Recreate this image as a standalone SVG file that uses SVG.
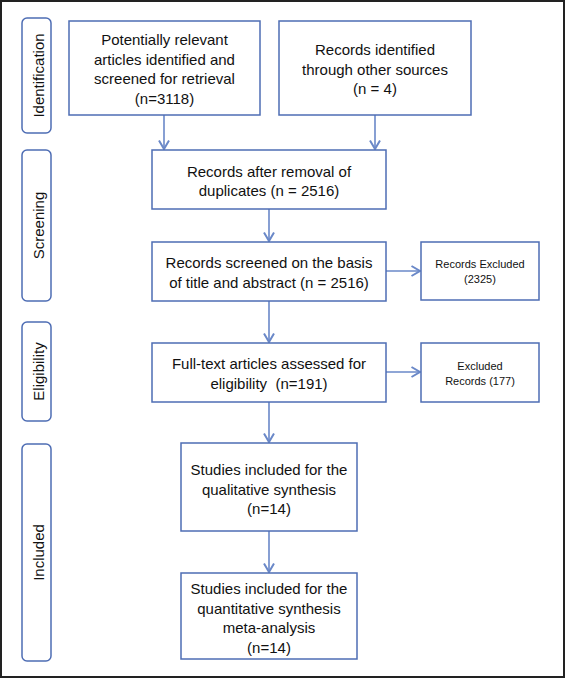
<svg xmlns="http://www.w3.org/2000/svg" width="566" height="679" viewBox="0 0 566 679">
<style>
.box{fill:#fff;stroke:#4e6db4;stroke-width:1.5}
.lab{fill:#fff;stroke:#4e6db4;stroke-width:1.5}
.t{font-family:"Liberation Sans",Arial,sans-serif;font-size:15px;fill:#111;text-anchor:middle}
.s{font-family:"Liberation Sans",Arial,sans-serif;font-size:11px;fill:#111;text-anchor:middle}
.c{fill:none;stroke:#6a88c8;stroke-width:1.6}
</style>
<defs>
<marker id="ah" markerUnits="userSpaceOnUse" markerWidth="14" markerHeight="14" viewBox="-10 -7 12 14" refX="0" refY="0" orient="auto">
<path d="M-8.5,-5 L0,0 L-8.5,5" fill="none" stroke="#6a88c8" stroke-width="2"/>
</marker>
</defs>
<rect x="1" y="1" width="563" height="676" fill="#fff" stroke="#222" stroke-width="2"/>
<g id="phase-identification">
<rect class="lab" x="22" y="18" width="29" height="115" rx="5"/>
<text class="t" transform="translate(43.5,75.5) rotate(-90)">Identification</text>
</g>
<g id="phase-screening">
<rect class="lab" x="22" y="150" width="29" height="151" rx="5"/>
<text class="t" transform="translate(43.5,225.5) rotate(-90)">Screening</text>
</g>
<g id="phase-eligibility">
<rect class="lab" x="22" y="322" width="29" height="99" rx="5"/>
<text class="t" transform="translate(43.5,371.5) rotate(-90)">Eligibility</text>
</g>
<g id="phase-included">
<rect class="lab" x="22" y="444" width="29" height="217" rx="5"/>
<text class="t" transform="translate(43.5,552.5) rotate(-90)">Included</text>
</g>
<g id="connectors">
<path class="c" d="M164,115 V149" marker-end="url(#ah)"/>
<path class="c" d="M375,115 V149" marker-end="url(#ah)"/>
<path class="c" d="M269,209 V241" marker-end="url(#ah)"/>
<path class="c" d="M269,301 V342" marker-end="url(#ah)"/>
<path class="c" d="M269,402 V442" marker-end="url(#ah)"/>
<path class="c" d="M269,531 V572" marker-end="url(#ah)"/>
<path class="c" d="M386,271 H420" marker-end="url(#ah)"/>
<path class="c" d="M386,372 H420" marker-end="url(#ah)"/>
</g>
<g id="n1">
<rect class="box" x="69" y="21" width="191" height="94"/>
<text class="t" x="164.5" y="45">Potentially relevant</text>
<text class="t" x="164.5" y="64.5">articles identified and</text>
<text class="t" x="164.5" y="84">screened for retrieval</text>
<text class="t" x="164.5" y="103.5">(n=3118)</text>
</g>
<g id="n2">
<rect class="box" x="279" y="21" width="192" height="94"/>
<text class="t" x="375" y="55">Records identified</text>
<text class="t" x="375" y="74.5">through other sources</text>
<text class="t" x="375" y="94">(n = 4)</text>
</g>
<g id="n3">
<rect class="box" x="152" y="150" width="234" height="59"/>
<text class="t" x="269" y="176.5">Records after removal of</text>
<text class="t" x="269" y="196">duplicates (n = 2516)</text>
</g>
<g id="n4">
<rect class="box" x="152" y="242" width="234" height="59"/>
<text class="t" x="269" y="268">Records screened on the basis</text>
<text class="t" x="269" y="287.5">of title and abstract (n = 2516)</text>
</g>
<g id="n5">
<rect class="box" x="421" y="242" width="118" height="58"/>
<text class="s" x="480" y="268">Records Excluded</text>
<text class="s" x="480" y="283">(2325)</text>
</g>
<g id="n6">
<rect class="box" x="152" y="343" width="234" height="59"/>
<text class="t" x="269" y="369">Full-text articles assessed for</text>
<text class="t" x="269" y="388.5" xml:space="preserve">eligibility  (n=191)</text>
</g>
<g id="n7">
<rect class="box" x="421" y="343" width="118" height="59"/>
<text class="s" x="480" y="370">Excluded</text>
<text class="s" x="480" y="385">Records (177)</text>
</g>
<g id="n8">
<rect class="box" x="181" y="443" width="176" height="88"/>
<text class="t" x="269" y="475">Studies included for the</text>
<text class="t" x="269" y="494.5">qualitative synthesis</text>
<text class="t" x="269" y="514">(n=14)</text>
</g>
<g id="n9">
<rect class="box" x="181" y="573" width="176" height="86"/>
<text class="t" x="269" y="594">Studies included for the</text>
<text class="t" x="269" y="613.5">quantitative synthesis</text>
<text class="t" x="269" y="633">meta-analysis</text>
<text class="t" x="269" y="652.5">(n=14)</text>
</g>
</svg>
